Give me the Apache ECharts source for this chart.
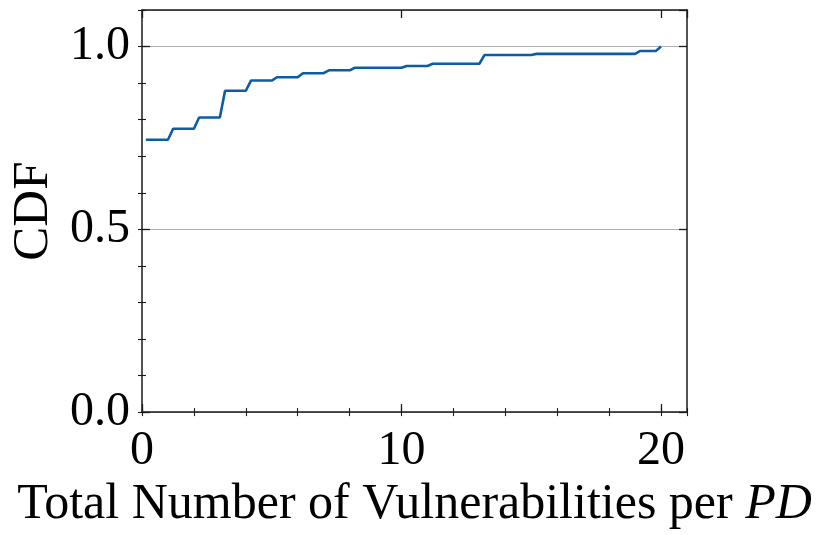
<!DOCTYPE html>
<html>
<head>
<meta charset="utf-8">
<script src="https://cdn.jsdelivr.net/npm/echarts@6/dist/echarts.min.js"></script>
<style>
html,body{margin:0;padding:0;background:#fff}
#chart{width:830px;height:535px}
</style>
</head>
<body>
<div id="chart"></div>
<script>
var startX = 0.15;
var riseWidth = 0.2;
var jumpAt = [1, 2, 3, 4, 5, 6, 7, 8, 10, 11, 13, 15, 19, 19.8];
var cdfLevels = [0.745, 0.775, 0.806, 0.879, 0.907, 0.916, 0.927, 0.935, 0.942, 0.947, 0.953, 0.977, 0.980, 0.988, 1.0];
var xTicks = [0, 10, 20];
var yTicks = [0, 0.5, 1.0];

var pts = [[startX, cdfLevels[0]]];
for (var i = 0; i < jumpAt.length; i++) {
    pts.push([jumpAt[i], cdfLevels[i]]);
    pts.push([jumpAt[i] + riseWidth, cdfLevels[i + 1]]);
}

var font = 'Liberation Serif';
var ink = '#1a1a1a';

function majorAxis(pos, extra) {
    var a = {
        position: pos,
        type: 'value',
        axisLine: {show: true, onZero: false, lineStyle: {color: ink, width: 1.5}},
        axisTick: {show: true, inside: true, length: 8, lineStyle: {color: ink, width: 1.3}},
        axisLabel: {show: false},
        splitLine: {show: false}
    };
    for (var k in extra) a[k] = extra[k];
    return a;
}
function minorAxis(pos, extra) {
    var a = {
        position: pos,
        type: 'value',
        axisLine: {show: false},
        axisTick: {show: true, inside: true, length: 4, lineStyle: {color: ink, width: 1.1}},
        axisLabel: {show: false},
        splitLine: {show: false}
    };
    for (var k in extra) a[k] = extra[k];
    return a;
}

var chart = echarts.init(document.getElementById('chart'));
chart.setOption({
    animation: false,
    backgroundColor: '#fff',
    grid: {left: 142, right: 143, top: 10, bottom: 121},
    xAxis: [
        majorAxis('bottom', {
            min: 0, max: 21, interval: 10,
            axisLabel: {
                show: true, margin: 15, fontFamily: font, fontSize: 48, color: '#000',
                showMaxLabel: false,
                formatter: function (v) { return xTicks.indexOf(v) >= 0 ? String(v) : ''; }
            },
            name: 'Total Number of Vulnerabilities per {i|PD}',
            nameLocation: 'middle',
            nameGap: 61,
            nameTextStyle: {
                fontFamily: font, fontSize: 50, color: '#000',
                rich: {i: {fontFamily: font, fontSize: 50, fontStyle: 'italic', color: '#000'}}
            }
        }),
        minorAxis('bottom', {min: 0, max: 21, interval: 2}),
        majorAxis('top', {min: 0, max: 21, interval: 10}),
        minorAxis('top', {min: 0, max: 21, interval: 2})
    ],
    yAxis: [
        majorAxis('left', {
            min: 0, max: 1.1, interval: 0.5,
            axisLabel: {
                show: true, margin: 12, fontFamily: font, fontSize: 48, color: '#000',
                showMaxLabel: false,
                formatter: function (v) {
                    for (var j = 0; j < yTicks.length; j++) {
                        if (Math.abs(v - yTicks[j]) < 1e-6) return yTicks[j].toFixed(1);
                    }
                    return '';
                }
            },
            splitLine: {show: true, lineStyle: {color: '#b0b0b0', width: 1.2}},
            name: 'CDF',
            nameLocation: 'middle',
            nameGap: 79,
            nameRotate: 90,
            nameTextStyle: {fontFamily: font, fontSize: 51, color: '#000'}
        }),
        minorAxis('left', {min: 0, max: 1.1, interval: 0.1}),
        majorAxis('right', {min: 0, max: 1.1, interval: 0.5}),
        minorAxis('right', {min: 0, max: 1.1, interval: 0.1})
    ],
    series: [{
        type: 'line',
        xAxisIndex: 0,
        yAxisIndex: 0,
        data: pts,
        showSymbol: false,
        lineStyle: {color: '#0C5DA5', width: 2.6}
    }]
});
</script>
</body>
</html>
